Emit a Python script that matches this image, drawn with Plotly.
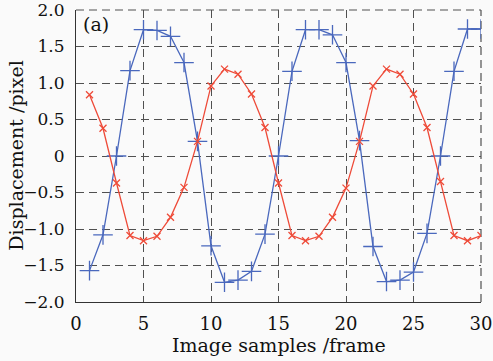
import plotly.graph_objects as go

frames = list(range(1, 31))
blue_disp = [-1.57, -1.08, 0.00, 1.17, 1.73, 1.72, 1.64, 1.28, 0.20, -1.23,
             -1.73, -1.70, -1.58, -1.07, 0.00, 1.16, 1.73, 1.73, 1.66, 1.28,
             0.21, -1.24, -1.72, -1.70, -1.59, -1.06, 0.00, 1.16, 1.74, 1.74]
red_disp = [0.84, 0.38, -0.37, -1.09, -1.16, -1.10, -0.84, -0.43, 0.20, 0.96,
            1.19, 1.12, 0.85, 0.39, -0.37, -1.09, -1.16, -1.10, -0.84, -0.44,
            0.20, 0.96, 1.19, 1.12, 0.85, 0.39, -0.35, -1.09, -1.16, -1.09]

x_ticks = [0, 5, 10, 15, 20, 25, 30]
y_ticks = [-2.0, -1.5, -1.0, -0.5, 0, 0.5, 1.0, 1.5, 2.0]
y_ticktext = ["\u22122.0", "\u22121.5", "\u22121.0", "\u22120.5", "0", "0.5", "1.0", "1.5", "2.0"]
x_title = "Image samples /frame"
y_title = "Displacement /pixel"
panel_label = "(a)"

FONT = "DejaVu Serif"
BLUE = "#4a68bd"
RED = "#ee4a38"
GRID = "#505050"
BG = "#fafafa"
DASH = "8px,5px"

fig = go.Figure()
fig.add_trace(go.Scatter(
    x=frames, y=blue_disp, mode="lines+markers",
    line=dict(color=BLUE, width=1.3),
    marker=dict(symbol="cross-thin", size=14, line=dict(color=BLUE, width=1.3)),
    showlegend=False))
fig.add_trace(go.Scatter(
    x=frames, y=red_disp, mode="lines+markers",
    line=dict(color=RED, width=1.3),
    marker=dict(symbol="x-thin", size=7, line=dict(color=RED, width=1.3)),
    showlegend=False))

# dashed frame lines on the top and right edges (grid at range ends)
fig.add_shape(type="line", xref="paper", yref="paper", x0=0, x1=1, y0=1, y1=1,
              line=dict(color=GRID, width=1.2, dash=DASH), layer="below")
fig.add_shape(type="line", xref="paper", yref="paper", x0=1, x1=1, y0=0, y1=1,
              line=dict(color=GRID, width=1.2, dash=DASH), layer="below")

fig.update_layout(
    width=493, height=361,
    margin=dict(l=76, r=12, t=10, b=59, autoexpand=False),
    paper_bgcolor=BG, plot_bgcolor=BG,
    font=dict(family=FONT, size=17, color="#111111"),
    xaxis=dict(
        range=[0, 30], tickvals=x_ticks, ticktext=[str(v) for v in x_ticks],
        tickfont=dict(size=18),
        showgrid=True, gridcolor=GRID, griddash=DASH, gridwidth=1.2,
        showline=True, linecolor="#333333", linewidth=1.2, mirror=False,
        zeroline=False, ticks="", ticklabelstandoff=5, automargin=False,
        ticklabeloverflow="allow",
    ),
    yaxis=dict(
        range=[-2, 2], tickvals=y_ticks, ticktext=y_ticktext,
        tickfont=dict(size=17),
        showgrid=True, gridcolor=GRID, griddash=DASH, gridwidth=1.2,
        showline=True, linecolor="#333333", linewidth=1.2, mirror=False,
        zeroline=False, ticks="", ticklabelstandoff=7, automargin=False,
        ticklabeloverflow="allow",
    ),
    annotations=[
        dict(text=panel_label, xref="paper", yref="paper", x=0.012, y=0.995,
             xanchor="left", yanchor="top", showarrow=False,
             font=dict(size=19, family=FONT)),
        dict(text=x_title, xref="paper", yref="paper", x=0.5, y=-0.147,
             xanchor="center", yanchor="middle", showarrow=False,
             font=dict(size=19, family=FONT)),
        dict(text=y_title, xref="paper", yref="paper", x=-0.149, y=0.5,
             xanchor="center", yanchor="middle", textangle=-90, showarrow=False,
             font=dict(size=19, family=FONT)),
    ],
)

fig.write_html("out.html",
               config={"displayModeBar": False},
               post_script="document.body.style.margin='0px';document.body.style.background='#fafafa';")
